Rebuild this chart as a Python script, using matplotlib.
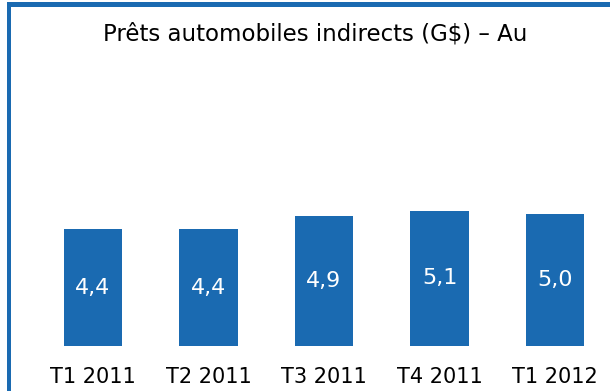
import matplotlib.pyplot as plt
from matplotlib.patches import Rectangle

plt.rcParams['font.family'] = ['DejaVu Sans']

quarters = ["T1 2011", "T2 2011", "T3 2011", "T4 2011", "T1 2012"]
loans = [4.4, 4.4, 4.9, 5.1, 5.0]
value_labels = ["4,4", "4,4", "4,9", "5,1", "5,0"]

blue = "#1a6ab1"

fig = plt.figure(figsize=(6.1, 3.91), dpi=100)
ax = fig.add_axes([0.0, 0.115, 1.0, 0.732])

x = range(len(quarters))
bars = ax.bar(x, loans, width=0.51, color=blue)

# value inside each bar, in white
for b, lab in zip(bars, value_labels):
    ax.text(b.get_x() + b.get_width() / 2, b.get_height() / 2, lab,
            ha="center", va="center", color="white", fontsize=16)

ax.set_xlim(-0.805, 4.476)
ax.set_ylim(0, 10.8)
ax.set_xticks(list(x))
ax.set_xticklabels(quarters, fontsize=15)
ax.tick_params(axis="x", length=0, pad=15)
ax.set_yticks([])
for s in ax.spines.values():
    s.set_visible(False)

fig.text(0.516, 0.913, "Prêts automobiles indirects (G$) – Au",
         ha="center", va="center", fontsize=16.5)

# frame lines on the top and left edges
fig.add_artist(Rectangle((7 / 610, 0), 4 / 610, 1 - 2 / 391,
                         transform=fig.transFigure, color=blue, lw=0))
fig.add_artist(Rectangle((7 / 610, 1 - 7 / 391), 1, 5 / 391,
                         transform=fig.transFigure, color=blue, lw=0))

fig.savefig("out.png", dpi=100)
